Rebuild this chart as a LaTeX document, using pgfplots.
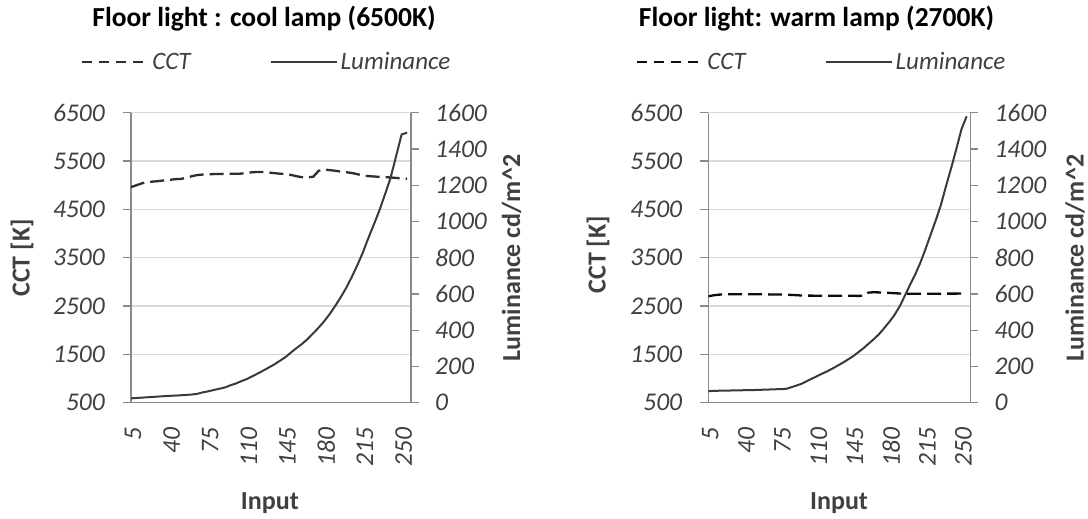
\documentclass[border=0pt]{standalone}
\usepackage{fontspec}
\setmainfont{Carlito}
\usepackage{pgfplots}
\usepackage{pgfplotstable}
\pgfplotsset{compat=1.18}

\definecolor{axisgray}{HTML}{898989}
\definecolor{gridgray}{HTML}{D9D9D9}
\definecolor{txtgray}{HTML}{404040}
\definecolor{lumcol}{HTML}{3A3A3A}

% Cool lamp (6500K): input vs CCT [K] and luminance [cd/m^2]
\pgfplotstableread{
in  cct  lum
5   4960 24
10  5000 26
15  5040 28
20  5065 30
25  5075 32
30  5085 34
35  5100 36
40  5110 38
45  5125 39
50  5130 41
55  5150 43
60  5185 45
65  5210 49
70  5220 57
75  5225 63
80  5230 70
85  5232 77
90  5235 84
95  5235 96
100 5236 106
105 5240 119
110 5255 131
115 5268 146
120 5275 162
125 5272 178
130 5262 195
135 5248 212
140 5238 232
145 5232 252
150 5212 278
155 5185 302
160 5165 325
165 5163 352
170 5175 383
175 5300 415
180 5325 450
185 5312 490
190 5298 535
195 5282 583
200 5268 635
205 5252 695
210 5228 760
215 5198 830
220 5188 910
225 5180 985
230 5172 1063
235 5166 1150
240 5160 1240
245 5150 1360
250 5142 1480
255 5135 1490
}\coolTable

% Warm lamp (2700K)
\pgfplotstableread{
in  cct  lum
5   2700 64
10  2722 65
15  2735 66
20  2740 67
25  2742 67
30  2742 68
35  2742 68
40  2742 69
45  2742 70
50  2742 70
55  2745 71
60  2742 72
65  2740 73
70  2738 74
75  2738 75
80  2735 76
85  2730 85
90  2725 94
95  2718 104
100 2715 118
105 2715 132
110 2714 146
115 2714 160
120 2714 173
125 2712 188
130 2712 204
135 2712 220
140 2712 238
145 2712 256
150 2710 278
155 2712 300
160 2778 325
165 2785 350
170 2782 377
175 2778 410
180 2772 445
185 2765 483
190 2760 530
195 2757 588
200 2755 648
205 2755 705
210 2755 770
215 2755 845
220 2755 925
225 2755 1005
230 2755 1090
235 2756 1195
240 2757 1295
245 2757 1400
250 2758 1510
255 2758 1580
}\warmTable

\pgfplotsset{
  panel/.style={
    scale only axis, height=290pt,
    xmin=5, xmax=258.5,
    axis line style={axisgray, line width=1.5pt},
    tick align=outside, major tick length=8pt,
    y tick style={axisgray, line width=1.3pt},
    x tick style={draw=none},
    ticklabel style={font=\itshape\fontsize{25.5}{30}\selectfont, text=txtgray, inner sep=0pt},
    label style={font=\bfseries\fontsize{26}{31}\selectfont, text=txtgray},
  },
  mainpanel/.style={
    panel,
    axis y line*=left, axis x line*=bottom,
    ymin=500, ymax=6500,
    ytick={500,1500,2500,3500,4500,5500,6500},
    yticklabels={500,1500,2500,3500,4500,5500,6500},
    ymajorgrids, grid style={gridgray, line width=1.3pt},
    xtick={5,40,75,110,145,180,215,250},
    xticklabels={5,40,75,110,145,180,215,250},
    % rotated labels: xshift acts along the text, i.e. downwards here
    xticklabel style={rotate=90, anchor=east, xshift=-17pt, yshift=-2pt},
    yticklabel style={anchor=east, xshift=-18pt},
    title style={font=\bfseries\fontsize{27.5}{33}\selectfont, text=black, anchor=center},
    legend columns=2,
    legend cell align=left,
    legend image code/.code={\draw[##1] (0pt,0pt) -- (66pt,0pt);},
    legend style={draw=none, fill=none, anchor=west, inner sep=0pt, outer sep=0pt,
      font=\itshape\fontsize{25}{30}\selectfont, text=txtgray,
      nodes={inner sep=3pt},
      /tikz/every even column/.append style={column sep=76pt}},
  },
  twinpanel/.style={
    panel,
    axis y line*=right, axis x line=none,
    ymin=0, ymax=1600,
    ytick={0,200,400,600,800,1000,1200,1400,1600},
    yticklabels={0,200,400,600,800,1000,1200,1400,1600},
    yticklabel style={anchor=west, xshift=16pt},
  },
  cctline/.style={line width=2.3pt, dash pattern=on 14pt off 6pt},
  cctkey/.style={line width=2.3pt, dash pattern=on 10pt off 7pt},
  lumline/.style={line width=2pt, lumcol},
}

\begin{document}
\begin{tikzpicture}
\useasboundingbox (0pt,0pt) rectangle (1088pt,519pt);

% ---- cool lamp ----
\begin{axis}[mainpanel, width=280pt, at={(131pt,116.3pt)}, anchor=south west,
  title={Floor light : cool lamp (6500K)},
  title style={at={(axis description cs:0.475,1.305)}},
  xlabel={Input}, xlabel style={at={(axis description cs:0.496,-0.346)}, anchor=center},
  ylabel={CCT [K]}, ylabel style={at={(axis description cs:-0.389,0.499)}, anchor=center},
  legend style={at={(axis description cs:-0.1786,1.1748)}},
]
\addplot[cctline, color=black!82, forget plot] table[x=in, y=cct] {\coolTable};
\addlegendimage{cctkey, color=black!82}
\addlegendentry{CCT}
\addlegendimage{lumline}
\addlegendentry{Luminance}
\end{axis}
\begin{axis}[twinpanel, width=280pt, at={(131pt,116.3pt)}, anchor=south west,
  ylabel={Luminance cd/m\textasciicircum 2},
  ylabel style={at={(axis description cs:1.3596,0.499)}, anchor=center, rotate=0},
]
\addplot[lumline] table[x=in, y=lum] {\coolTable};
\end{axis}

% ---- warm lamp ----
\begin{axis}[mainpanel, width=262pt, at={(708.3pt,116.3pt)}, anchor=south west,
  title={Floor light: warm lamp (2700K)},
  title style={at={(axis description cs:0.413,1.305)}},
  xlabel={Input}, xlabel style={at={(axis description cs:0.499,-0.346)}, anchor=center},
  ylabel={CCT [K]}, ylabel style={at={(axis description cs:-0.421,0.51)}, anchor=center},
  legend style={at={(axis description cs:-0.276,1.1748)}},
]
\addplot[cctline, color=black!95, forget plot] table[x=in, y=cct] {\warmTable};
\addlegendimage{cctkey, color=black!95}
\addlegendentry{CCT}
\addlegendimage{lumline}
\addlegendentry{Luminance}
\end{axis}
\begin{axis}[twinpanel, width=262pt, at={(708.3pt,116.3pt)}, anchor=south west,
  ylabel={Luminance cd/m\textasciicircum 2},
  ylabel style={at={(axis description cs:1.3996,0.499)}, anchor=center, rotate=0},
]
\addplot[lumline] table[x=in, y=lum] {\warmTable};
\end{axis}
\end{tikzpicture}
\end{document}
